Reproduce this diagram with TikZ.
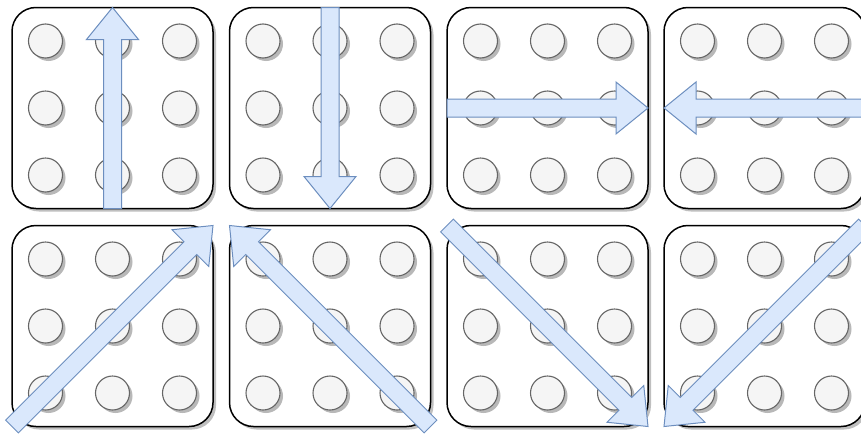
\documentclass[tikz,border=0pt]{standalone}
\usetikzlibrary{calc}
\definecolor{blfill}{HTML}{DAE8FC}
\definecolor{bldraw}{HTML}{6C8EBF}
\definecolor{dotfill}{HTML}{F5F5F5}
\definecolor{dotdraw}{HTML}{666666}
\newcommand\blkarrow[2]{%
  \coordinate (hb) at ($(#2)!32pt!(#1)$);
  \draw[blk] ($(#1)!9pt!90:(#2)$) -- ($(hb)!9pt!90:(#2)$) -- ($(hb)!26pt!90:(#2)$) -- (#2)
    -- ($(hb)!26pt!-90:(#2)$) -- ($(hb)!9pt!-90:(#2)$) -- ($(#1)!9pt!-90:(#2)$) -- cycle;}
\begin{document}
\begin{tikzpicture}[x=1pt,y=-1pt,
  panel/.style={draw=black,line width=1.5pt,rounded corners=24pt,fill=white,
    minimum width=201pt,minimum height=201pt,inner sep=0pt,outer sep=0pt},
  pshadow/.style={fill=black!25,rounded corners=24pt,
    minimum width=201pt,minimum height=201pt,inner sep=0pt,outer sep=0pt},
  dot/.style={circle,draw=dotdraw,fill=dotfill,line width=1.1pt,minimum size=34pt,inner sep=0pt},
  dshadow/.style={circle,fill=black!28,minimum size=34pt,inner sep=0pt},
  blk/.style={draw=bldraw,fill=blfill,line width=1pt,line join=miter}]
\useasboundingbox (0,0) rectangle (861,434);
\foreach \n/\x/\y in {1/112.5/108,2/330/108,3/547.5/108,4/764.5/108,
                      5/112.5/326,6/330/326,7/547.5/326,8/764.5/326}{
  \node[pshadow] (s\n) at (\x+3,\y+3) {};
  \node[panel] (p\n) at (\x,\y) {};
  \foreach \i/\dx in {1/-67,2/0,3/67}{
    \foreach \j/\dy in {1/-67,2/0,3/67}{
      \node[dshadow] (d\n\j\i) at (\x+\dx+3,\y+\dy+3) {};
      \node[dot] (c\n\j\i) at (\x+\dx,\y+\dy) {};
    }}
}
\blkarrow{p1.south}{p1.north}
\blkarrow{p2.north}{p2.south}
\blkarrow{p3.west}{p3.east}
\blkarrow{p4.east}{p4.west}
\blkarrow{p5.south west}{p5.north east}
\blkarrow{p6.south east}{p6.north west}
\blkarrow{p7.north west}{p7.south east}
\blkarrow{p8.north east}{p8.south west}
\end{tikzpicture}
\end{document}
